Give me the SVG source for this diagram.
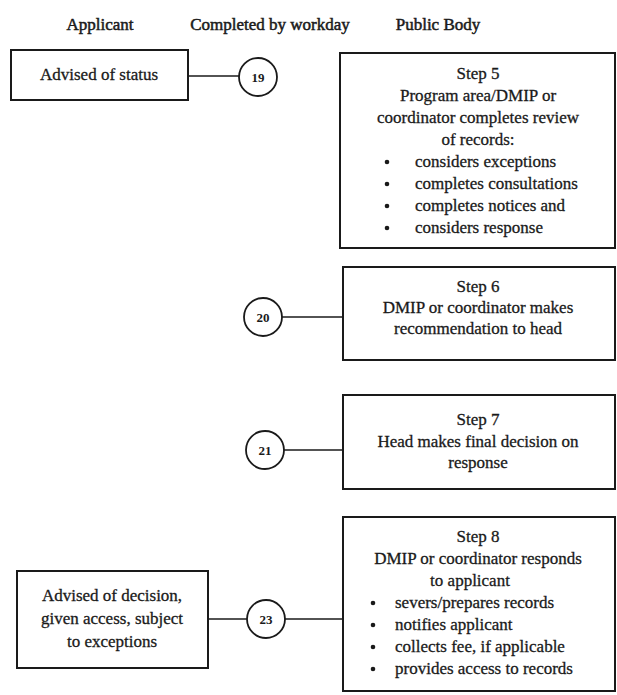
<svg xmlns="http://www.w3.org/2000/svg" width="617" height="695" viewBox="0 0 617 695">
<style>
text{font-family:"Liberation Serif","Times New Roman",serif;fill:#1a1a1a;font-size:17px;stroke:#1a1a1a;stroke-width:0.3}
.c{text-anchor:middle}
.h{font-size:17px;stroke-width:0.5}
.n{font-size:13px;font-weight:bold;text-anchor:middle;stroke-width:0}
.b{fill:none;stroke:#1a1a1a;stroke-width:2}
.ci{fill:#fff;stroke:#1a1a1a;stroke-width:1.8}
.ln{stroke:#1a1a1a;stroke-width:1.5;fill:none}
.dot{fill:#1a1a1a}
</style>
<g id="headers">
<text class="c h" x="100" y="30">Applicant</text>
<text class="c h" x="270" y="30">Completed by workday</text>
<text class="c h" x="438" y="30">Public Body</text>
</g>
<g id="connectors">
<line class="ln" x1="188" y1="76" x2="239" y2="76"/>
<line class="ln" x1="282" y1="317" x2="343" y2="317"/>
<line class="ln" x1="284" y1="450" x2="343" y2="450"/>
<line class="ln" x1="208" y1="619" x2="247" y2="619"/>
<line class="ln" x1="285" y1="619" x2="343" y2="619"/>
</g>
<g id="n_status">
<rect class="b" x="11" y="50" width="177" height="50"/>
<text class="c" x="99" y="80">Advised of status</text>
</g>
<g id="c19">
<circle class="ci" cx="258" cy="77" r="19"/>
<text class="n" x="258" y="82">19</text>
</g>
<g id="step5">
<rect class="b" x="340" y="53" width="275" height="195"/>
<text class="c" x="478" y="79">Step 5</text>
<text class="c" x="478" y="101">Program area/DMIP or</text>
<text class="c" x="478" y="123">coordinator completes review</text>
<text class="c" x="478" y="145">of records:</text>
<circle class="dot" cx="387" cy="162" r="2.3"/>
<text x="415" y="167">considers exceptions</text>
<circle class="dot" cx="387" cy="184" r="2.3"/>
<text x="415" y="189">completes consultations</text>
<circle class="dot" cx="387" cy="206" r="2.3"/>
<text x="415" y="211">completes notices and</text>
<circle class="dot" cx="387" cy="228" r="2.3"/>
<text x="415" y="233">considers response</text>
</g>
<g id="c20">
<circle class="ci" cx="263" cy="317" r="19"/>
<text class="n" x="263" y="322">20</text>
</g>
<g id="step6">
<rect class="b" x="343" y="267" width="272" height="93"/>
<text class="c" x="478" y="292">Step 6</text>
<text class="c" x="478" y="313">DMIP or coordinator makes</text>
<text class="c" x="478" y="334">recommendation to head</text>
</g>
<g id="c21">
<circle class="ci" cx="265" cy="450" r="19"/>
<text class="n" x="265" y="455">21</text>
</g>
<g id="step7">
<rect class="b" x="343" y="395" width="272" height="94"/>
<text class="c" x="478" y="425">Step 7</text>
<text class="c" x="478" y="447">Head makes final decision on</text>
<text class="c" x="478" y="468">response</text>
</g>
<g id="n_decision">
<rect class="b" x="17" y="571" width="191" height="97"/>
<text class="c" x="112" y="601">Advised of decision,</text>
<text class="c" x="112" y="624">given access, subject</text>
<text class="c" x="112" y="647">to exceptions</text>
</g>
<g id="c23">
<circle class="ci" cx="266" cy="619" r="19"/>
<text class="n" x="266" y="624">23</text>
</g>
<g id="step8">
<rect class="b" x="343" y="517" width="272" height="174"/>
<text class="c" x="478" y="542">Step 8</text>
<text class="c" x="478" y="564">DMIP or coordinator responds</text>
<text class="c" x="470" y="586">to applicant</text>
<circle class="dot" cx="373" cy="603" r="2.3"/>
<text x="395" y="608">severs/prepares records</text>
<circle class="dot" cx="373" cy="625" r="2.3"/>
<text x="395" y="630">notifies applicant</text>
<circle class="dot" cx="373" cy="647" r="2.3"/>
<text x="395" y="652">collects fee, if applicable</text>
<circle class="dot" cx="373" cy="669" r="2.3"/>
<text x="395" y="674">provides access to records</text>
</g>
</svg>
